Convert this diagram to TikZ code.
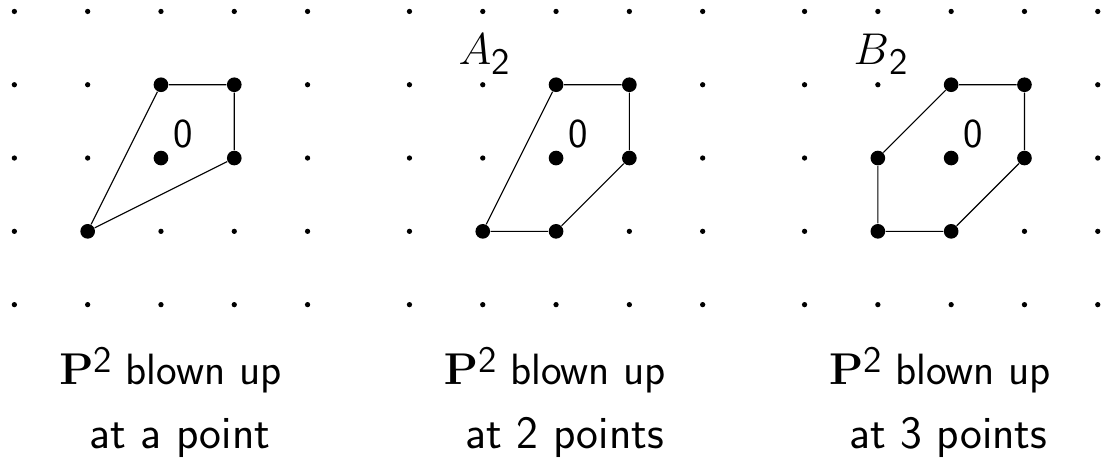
\documentclass[tikz,border=0pt]{standalone}

\newcommand{\capfont}{\sffamily\fontsize{17}{20}\selectfont}
\newcommand{\capfontb}{\sffamily\fontsize{18}{21}\selectfont}
\newcommand{\Ptwo}{{\fontsize{16}{19}\selectfont$\mathbf{P}$}\raisebox{4.5pt}{\fontsize{14.5}{15}\selectfont 2}}
\newcommand{\lbl}[2]{{\fontsize{17.28}{20}\selectfont$#1$}\raisebox{-3.9pt}{\sffamily\fontsize{14.5}{15}\selectfont #2}}

\begin{document}
\begin{tikzpicture}[
    vtx/.style={circle, fill, inner sep=0pt, minimum size=2mm},
    edge/.style={line width=0.45pt},
    caption/.style={font=\capfont, anchor=base, inner sep=0pt},
    captionb/.style={font=\capfontb, anchor=base, inner sep=0pt},
    zero/.style={font=\sffamily\fontsize{16}{16}\selectfont, anchor=base west, inner sep=0pt},
    typelabel/.style={anchor=base west, inner sep=0pt}
]
\useasboundingbox (-2.196, -4.188) rectangle (12.947, 2.156);

% lattice points
\foreach \ox in {0, 5.39, 10.78}
  \foreach \x in {-2,...,2}
    \foreach \y in {-2,...,2}
      \fill (\ox+\x, \y) circle (0.036);

% blown up at a point
\node[vtx] (a0) at (0, 0) {};
\node[vtx] (a1) at (0, 1) {};
\node[vtx] (a2) at (1, 1) {};
\node[vtx] (a3) at (1, 0) {};
\node[vtx] (a4) at (-1, -1) {};
\node[zero] (z1) at (0.164, 0.15) {0};
\draw[edge] (a1) -- (a2) -- (a3) -- (a4) -- (a1);
\node[caption] (t1) at (0.13, -3.083) {\Ptwo\ blown up};
\node[captionb] (u1) at (0.26, -3.956) {at a point};

% blown up at 2 points (A2)
\node[vtx] (b0) at (5.39, 0) {};
\node[vtx] (b1) at (5.39, 1) {};
\node[vtx] (b2) at (6.39, 1) {};
\node[vtx] (b3) at (6.39, 0) {};
\node[vtx] (b4) at (5.39, -1) {};
\node[vtx] (b5) at (4.39, -1) {};
\node[zero] (z2) at (5.554, 0.15) {0};
\node[typelabel] (nA) at (4.053, 1.27) {\lbl{A}{2}};
\draw[edge] (b1) -- (b2) -- (b3) -- (b4) -- (b5) -- (b1);
\node[caption] (t2) at (5.375, -3.083) {\Ptwo\ blown up};
\node[captionb] (u2) at (5.51, -3.956) {at 2 points};

% blown up at 3 points (B2)
\node[vtx] (c0) at (10.78, 0) {};
\node[vtx] (c1) at (10.78, 1) {};
\node[vtx] (c2) at (11.78, 1) {};
\node[vtx] (c3) at (11.78, 0) {};
\node[vtx] (c4) at (10.78, -1) {};
\node[vtx] (c5) at (9.78, -1) {};
\node[vtx] (c6) at (9.78, 0) {};
\node[zero] (z3) at (10.944, 0.15) {0};
\node[typelabel] (nB) at (9.443, 1.27) {\lbl{B}{2}};
\draw[edge] (c1) -- (c2) -- (c3) -- (c4) -- (c5) -- (c6) -- (c1);
\node[caption] (t3) at (10.63, -3.083) {\Ptwo\ blown up};
\node[captionb] (u3) at (10.74, -3.956) {at 3 points};
\end{tikzpicture}
\end{document}
